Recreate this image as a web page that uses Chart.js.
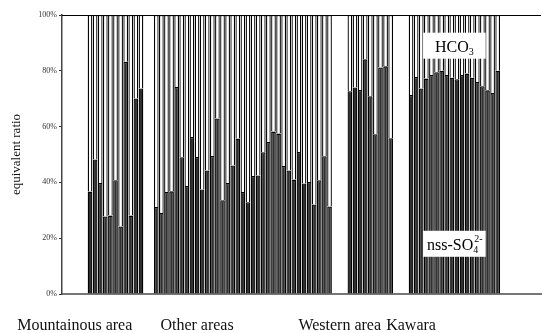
<!DOCTYPE html>
<html>
<head>
<meta charset="utf-8">
<script src="https://cdn.jsdelivr.net/npm/chart.js@4.4.0/dist/chart.umd.min.js"></script>
<style>
  html, body { margin: 0; padding: 0; background: #fff; }
  #wrap { width: 542px; height: 333px; }
</style>
</head>
<body>
<div id="wrap"><canvas id="ratioChart" width="542" height="333"></canvas></div>
<script>
// nss-SO4 share (%) of each sample; HCO3 makes up the rest
const groupNames = ['Mountainous area', 'Other areas', 'Western area', 'Kawara'];
const mountainous = [36.7, 48.2, 39.8, 27.8, 28.1, 40.8, 24.2, 83.2, 28.1, 70.1, 73.7];
const otherAreas = [31.2, 29.0, 36.6, 36.8, 74.2, 49.0, 38.7, 56.3, 49.1, 37.5, 44.3, 49.5,
    62.9, 33.6, 39.8, 46.1, 55.7, 36.6, 32.9, 42.3, 42.5, 50.8, 54.5, 58.2, 57.5, 45.9,
    44.3, 41.0, 50.9, 39.6, 40.1, 32.1, 40.8, 49.4, 31.4];
const western = [72.7, 74.0, 73.1, 84.1, 70.9, 57.3, 81.2, 81.6, 55.8];
const kawara = [71.3, 77.8, 73.7, 77.2, 78.5, 79.5, 80.0, 78.5, 77.5, 77.0, 78.5, 79.0,
    77.5, 76.0, 74.5, 73.0, 72.0, 80.0];
const yTicks = [0, 20, 40, 60, 80, 100];

// empty category slots before, between and after the groups
const gapSlots = [5, 2, 3, 3, 8];
// the group names sit a little left of their bars in the original (in slots)
const labelShift = [8, 9, 6, 8];

const groups = [mountainous, otherAreas, western, kawara];
const labels = [];
const so4 = [];
const hco3 = [];
const groupTick = {};
const groupSpan = [];

function addGap(n) {
    for (let i = 0; i < n; i++) {
        labels.push('');
        so4.push(null);
        hco3.push(null);
    }
}

groups.forEach((vals, g) => {
    addGap(gapSlots[g]);
    const start = labels.length;
    vals.forEach(v => {
        labels.push(groupNames[g]);
        so4.push(v);
        hco3.push(+(100 - v).toFixed(1));
    });
    groupTick[start + Math.floor((vals.length - 1) / 2) - labelShift[g]] = groupNames[g];
    groupSpan.push([start, labels.length - 1]);
});
addGap(gapSlots[4]);

const serif = "'Liberation Serif', 'Times New Roman', serif";

function tagWidth(ctx, main, sub, sup) {
    ctx.font = '16px ' + serif;
    const wMain = ctx.measureText(main).width;
    ctx.font = '10px ' + serif;
    return wMain + Math.max(ctx.measureText(sub).width, ctx.measureText(sup).width);
}

// white tag with sub/superscript, e.g. HCO3 and nss-SO4 2-
function drawTag(ctx, cx, cy, boxW, main, sub, sup) {
    const w = tagWidth(ctx, main, sub, sup);
    const boxH = 26;
    ctx.fillStyle = '#fff';
    ctx.fillRect(cx - boxW / 2, cy - boxH / 2, boxW, boxH);
    ctx.fillStyle = '#000';
    ctx.textBaseline = 'alphabetic';
    ctx.textAlign = 'left';
    const x0 = cx - w / 2;
    const base = cy + 6;
    ctx.font = '16px ' + serif;
    const wMain = ctx.measureText(main).width;
    ctx.fillText(main, x0, base);
    ctx.font = '10px ' + serif;
    if (sub) ctx.fillText(sub, x0 + wMain, base + 3);
    if (sup) ctx.fillText(sup, x0 + wMain + 1, base - 8);
}

const frameAndTags = {
    id: 'frameAndTags',
    afterDatasetsDraw(chart) {
        const { ctx, chartArea, scales } = chart;
        ctx.save();
        // top edge of the plot frame
        ctx.strokeStyle = '#000';
        ctx.lineWidth = 1;
        ctx.beginPath();
        ctx.moveTo(chartArea.left, chartArea.top + 0.5);
        ctx.lineTo(chartArea.right, chartArea.top + 0.5);
        ctx.stroke();

        const [a, b] = groupSpan[3];
        const cx = (scales.x.getPixelForValue(a) + scales.x.getPixelForValue(b)) / 2;
        const boxW = Math.max(tagWidth(ctx, 'HCO', '3', ''), tagWidth(ctx, 'nss-SO', '4', '2-')) + 8;
        drawTag(ctx, cx, scales.y.getPixelForValue(89), boxW, 'HCO', '3', '');
        drawTag(ctx, cx, scales.y.getPixelForValue(18), boxW, 'nss-SO', '4', '2-');
        ctx.restore();
    }
};

const ctx = document.getElementById('ratioChart').getContext('2d');

const chart = new Chart(ctx, {
    type: 'bar',
    data: {
        labels: labels,
        datasets: [
            {
                label: 'nss-SO4 2-',
                data: so4,
                backgroundColor: '#303030',
                borderColor: '#000',
                borderWidth: 1.3,
                stack: 'ratio'
            },
            {
                label: 'HCO3',
                data: hco3,
                backgroundColor: '#fff',
                borderColor: '#000',
                borderWidth: 1.3,
                stack: 'ratio'
            }
        ]
    },
    options: {
        responsive: false,
        animation: false,
        devicePixelRatio: 1,
        categoryPercentage: 0.92,
        barPercentage: 1,
        layout: { autoPadding: false, padding: { top: 15, right: 1, bottom: 0, left: 0 } },
        plugins: {
            legend: { display: false },
            tooltip: { enabled: false }
        },
        scales: {
            x: {
                stacked: true,
                afterFit(s) { s.height = 39; },
                // invisible tick marks push the group names down
                grid: {
                    display: true,
                    drawOnChartArea: false,
                    drawTicks: true,
                    tickLength: 22,
                    tickColor: 'rgba(0,0,0,0)',
                    color: 'rgba(0,0,0,0)'
                },
                border: { display: true, color: '#777', width: 2 },
                ticks: {
                    autoSkip: false,
                    maxRotation: 0,
                    minRotation: 0,
                    padding: 0,
                    color: '#111',
                    font: { family: serif, size: 16 },
                    callback: (v, i) => groupTick[i] || ''
                }
            },
            y: {
                stacked: true,
                min: 0,
                max: 100,
                afterFit(s) { s.width = 62; },
                afterBuildTicks(s) { s.ticks = yTicks.map(v => ({ value: v })); },
                ticks: {
                    color: '#333',
                    padding: 2,
                    font: { family: serif, size: 8 },
                    callback: v => v + '%'
                },
                grid: { drawOnChartArea: false, drawTicks: true, tickLength: 3, color: '#333' },
                border: { display: true, color: '#444', width: 1.5 },
                title: {
                    display: true,
                    text: 'equivalent ratio',
                    color: '#111',
                    font: { family: serif, size: 13 },
                    padding: { top: 9, bottom: 0 }
                }
            }
        }
    },
    plugins: [frameAndTags]
});
</script>
</body>
</html>
